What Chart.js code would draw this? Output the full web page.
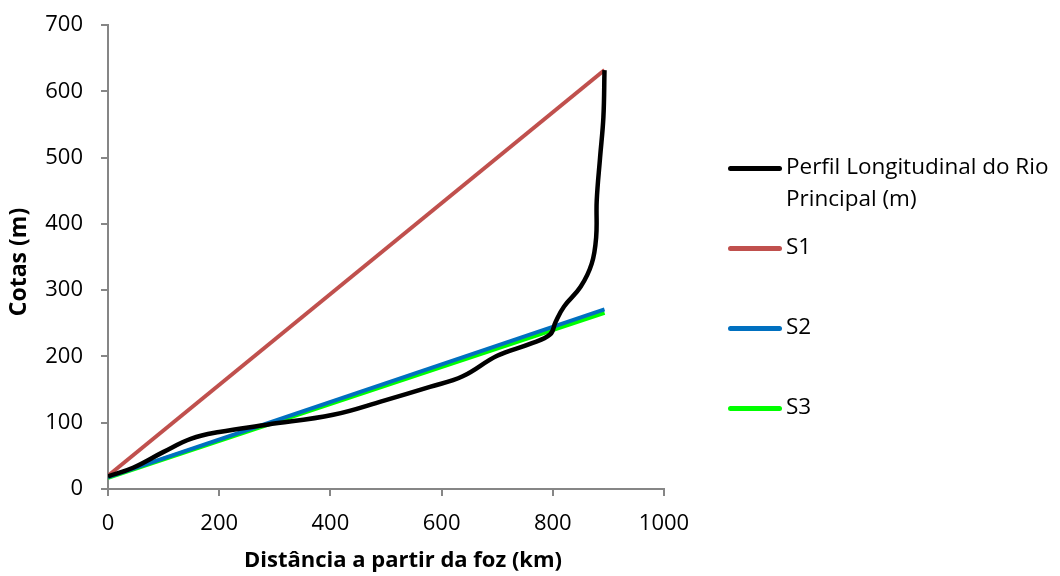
<!DOCTYPE html>
<html><head><meta charset="utf-8">
<script src="https://cdn.jsdelivr.net/npm/chart.js@4.4.0/dist/chart.umd.min.js"></script>
<style>
html,body{margin:0;padding:0;background:#fff;}
#wrap{position:relative;width:1060px;height:576px;}
#legend{position:absolute;left:728px;top:150px;font-family:"Open Sans",sans-serif;font-size:22.5px;color:#000;line-height:32px;}
.item{position:absolute;left:0;white-space:nowrap;}
.sw{position:absolute;left:0;width:54px;height:5px;border-radius:3px;}
.tx{position:absolute;left:58px;}
</style></head>
<body><div id="wrap"><canvas id="c" width="1060" height="576"></canvas>
<div id="legend"></div></div>
<script>
const seriesNames = ["Perfil Longitudinal do Rio Principal (m)", "S1", "S2", "S3"];
const perfilX = [0,45,100,150,200,286,405,495,579,638,700,759,795,805,820,850,870,878,879,885,891,893];
const perfilY = [19,32,56,76,86,97,112,133,154,170,201,219,233,252,275,305,340,380,435,500,561,632];
const s1X = [0,893], s1Y = [20,632];
const s2X = [0,893], s2Y = [18,271];
const s3X = [0,893], s3Y = [17,266];
const xTicks = [0,200,400,600,800,1000];
const yTicks = [0,100,200,300,400,500,600,700];
const xTitle = 'Distância a partir da foz (km)';
const yTitle = 'Cotas (m)';

const pts = (xs,ys)=>xs.map((x,i)=>({x:x,y:ys[i]}));
const colors = ["#000000","#C0504D","#0070C0","#00FF00"];
const FONT = "'Open Sans', sans-serif";

const axisTitles = {
  id:'axisTitles',
  afterDraw(chart){
    const ctx = chart.ctx; const a = chart.chartArea;
    ctx.save();
    ctx.fillStyle = '#000';
    ctx.textAlign = 'center'; ctx.textBaseline = 'middle';
    ctx.font = 'bold 22px ' + FONT;
    ctx.fillText(xTitle, (a.left + a.right)/2 + 17, a.bottom + 72);
    ctx.translate(19, 262);
    ctx.rotate(-Math.PI/2);
    ctx.font = 'bold 23px ' + FONT;
    ctx.fillText(yTitle, 0, 0);
    ctx.restore();
  }
};

new Chart(document.getElementById('c'),{
  type:'line',
  data:{datasets:[
    {label:seriesNames[0],data:pts(perfilX,perfilY),borderColor:colors[0],borderWidth:4.5,tension:0.4,pointRadius:0},
    {label:seriesNames[1],data:pts(s1X,s1Y),borderColor:colors[1],borderWidth:4,pointRadius:0},
    {label:seriesNames[2],data:pts(s2X,s2Y),borderColor:colors[2],borderWidth:4,pointRadius:0},
    {label:seriesNames[3],data:pts(s3X,s3Y),borderColor:colors[3],borderWidth:4.5,pointRadius:0}
  ]},
  options:{
    responsive:false,animation:false,
    layout:{padding:{left:0,right:396,top:25,bottom:0}},
    plugins:{legend:{display:false},tooltip:{enabled:false}},
    scales:{
      x:{type:'linear',min:0,max:1000,
        afterBuildTicks:s=>{s.ticks=xTicks.map(v=>({value:v}));},
        afterFit:s=>{s.height=87;s.paddingLeft=0;s.paddingRight=0;},
        border:{color:'#868686',width:2},
        grid:{drawOnChartArea:false,drawTicks:true,tickLength:7,color:'#868686',lineWidth:2},
        ticks:{font:{family:FONT,size:22},color:'#000',padding:15,maxRotation:0,callback:v=>String(v)},
        title:{display:false}
      },
      y:{type:'linear',min:0,max:700,
        afterBuildTicks:s=>{s.ticks=yTicks.map(v=>({value:v}));},
        afterFit:s=>{s.width=108;s.paddingTop=0;s.paddingBottom=0;},
        border:{color:'#868686',width:2},
        grid:{drawOnChartArea:false,drawTicks:true,tickLength:7,color:'#868686',lineWidth:2},
        ticks:{font:{family:FONT,size:22},color:'#000',padding:18,callback:v=>String(v)},
        title:{display:false}
      }
    }
  },
  plugins:[axisTitles]
});

const leg = document.getElementById('legend');
const rows = [
  {text:"Perfil Longitudinal do Rio<br>Principal (m)",top:0,c:colors[0]},
  {text:seriesNames[1],top:80,c:colors[1]},
  {text:seriesNames[2],top:160,c:colors[2]},
  {text:seriesNames[3],top:240,c:colors[3]}
];
rows.forEach(r=>{
  const d=document.createElement('div');d.className='item';d.style.top=r.top+'px';
  d.innerHTML='<div class="sw" style="top:16px;background:'+r.c+'"></div><div class="tx">'+r.text+'</div>';
  leg.appendChild(d);
});
</script></body></html>
